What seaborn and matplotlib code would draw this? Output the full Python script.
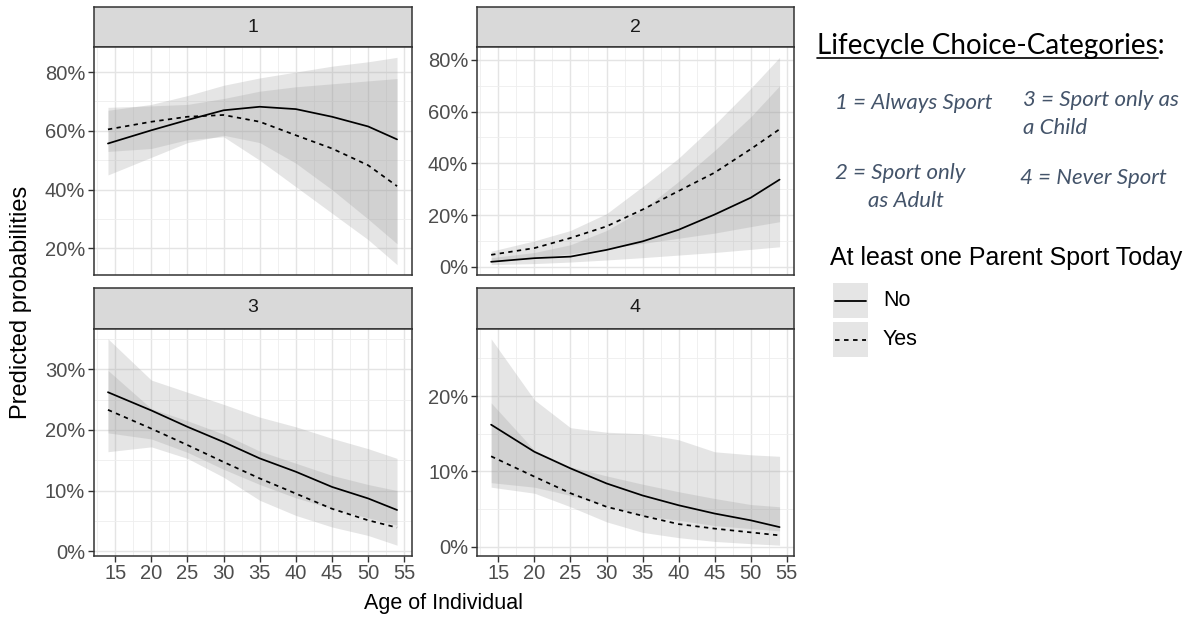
import numpy as np
import pandas as pd
import matplotlib
matplotlib.use("Agg")
import matplotlib.pyplot as plt
from matplotlib.patches import Rectangle
from matplotlib.lines import Line2D
from matplotlib.ticker import FuncFormatter
import seaborn as sns

# ---- data: predicted probabilities (%) by age, for each lifecycle category ----
ages = [14, 20, 25, 30, 35, 40, 45, 50, 54]
parent_levels = ["No", "Yes"]
panels = ["1", "2", "3", "4"]

# category 1 = Always Sport
p1_no = [55.7, 60.2, 63.7, 67.0, 68.2, 67.4, 64.8, 61.5, 57.1]
p1_no_lo = [45.0, 51.0, 56.0, 58.5, 56.0, 49.0, 40.0, 30.0, 21.6]
p1_no_hi = [67.0, 69.0, 72.0, 75.5, 78.0, 80.0, 82.0, 83.5, 85.0]
p1_yes = [60.5, 63.1, 64.8, 65.4, 63.1, 58.5, 54.0, 48.3, 41.2]
p1_yes_lo = [53.0, 54.0, 57.0, 58.0, 50.0, 41.0, 32.0, 23.0, 14.5]
p1_yes_hi = [68.0, 68.5, 69.0, 71.0, 73.5, 75.0, 76.0, 77.0, 77.8]

# category 2 = Sport only as Adult
p2_no = [1.9, 3.3, 3.9, 6.5, 9.8, 14.3, 20.2, 26.7, 33.7]
p2_no_lo = [0.8, 1.2, 1.8, 2.6, 3.5, 4.5, 5.5, 6.7, 7.7]
p2_no_hi = [3.5, 5.5, 8.5, 14.0, 22.0, 33.0, 45.0, 58.0, 70.0]
p2_yes = [4.6, 7.2, 11.1, 15.6, 22.1, 29.3, 36.4, 45.5, 53.2]
p2_yes_lo = [2.5, 3.5, 5.0, 7.0, 9.0, 11.0, 13.0, 15.5, 17.4]
p2_yes_hi = [6.0, 10.0, 14.0, 20.5, 31.0, 42.0, 55.0, 69.0, 81.0]

# category 3 = Sport only as a Child
p3_no = [26.2, 23.2, 20.5, 18.0, 15.3, 13.1, 10.6, 8.7, 6.8]
p3_no_lo = [19.5, 18.5, 16.3, 13.5, 11.0, 8.8, 7.0, 5.5, 4.3]
p3_no_hi = [35.0, 28.2, 26.2, 24.2, 22.1, 20.5, 18.6, 16.9, 15.3]
p3_yes = [23.3, 20.2, 17.5, 14.7, 12.0, 9.5, 7.0, 5.1, 3.9]
p3_yes_lo = [16.4, 17.2, 15.3, 12.2, 8.4, 5.9, 4.0, 2.6, 1.0]
p3_yes_hi = [29.8, 23.5, 21.5, 19.3, 16.5, 14.5, 12.5, 11.0, 10.0]

# category 4 = Never Sport
p4_no = [16.2, 12.6, 10.4, 8.4, 6.8, 5.5, 4.4, 3.5, 2.6]
p4_no_lo = [8.5, 7.9, 6.8, 5.5, 4.1, 3.5, 2.8, 2.4, 2.1]
p4_no_hi = [27.6, 19.5, 15.8, 15.2, 15.0, 14.2, 12.6, 12.2, 12.0]
p4_yes = [12.0, 9.3, 7.1, 5.3, 4.1, 3.0, 2.4, 1.9, 1.5]
p4_yes_lo = [7.9, 7.1, 5.3, 3.3, 1.9, 1.2, 0.7, 0.4, 0.2]
p4_yes_hi = [19.1, 12.8, 10.6, 9.4, 8.3, 7.3, 6.4, 5.6, 5.3]

x_ticks = [15, 20, 25, 30, 35, 40, 45, 50, 55]
y_ticks = {"1": [20, 40, 60, 80], "2": [0, 20, 40, 60, 80],
           "3": [0, 10, 20, 30], "4": [0, 10, 20]}

series = {
    "1": {"No": (p1_no, p1_no_lo, p1_no_hi), "Yes": (p1_yes, p1_yes_lo, p1_yes_hi)},
    "2": {"No": (p2_no, p2_no_lo, p2_no_hi), "Yes": (p2_yes, p2_yes_lo, p2_yes_hi)},
    "3": {"No": (p3_no, p3_no_lo, p3_no_hi), "Yes": (p3_yes, p3_yes_lo, p3_yes_hi)},
    "4": {"No": (p4_no, p4_no_lo, p4_no_hi), "Yes": (p4_yes, p4_yes_lo, p4_yes_hi)},
}

rows = []
for pan in panels:
    for lvl in parent_levels:
        mid, lo, hi = series[pan][lvl]
        for a, m, l, h in zip(ages, mid, lo, hi):
            rows.append(dict(panel=pan, parent=lvl, age=a, prob=m, lo=l, hi=h))
df = pd.DataFrame(rows)

# ---- styling ----
sns.set_theme(style="white")
plt.rcParams["font.family"] = ["Liberation Sans", "DejaVu Sans"]

W, H = 1193, 622
fig = plt.figure(figsize=(W / 100, H / 100), dpi=100)
fig.patch.set_facecolor("white")


def fbox(x0, y0, x1, y1):
    """pixel box (top-left origin) -> figure-fraction rect"""
    return [x0 / W, 1 - y1 / H, (x1 - x0) / W, (y1 - y0) / H]


col_x = [(93.5, 411.5), (476.7, 794.0)]
row_y = [((7, 47), (47, 275)), ((287.5, 328.5), (328.5, 555.5))]

ink = "#333333"
ribbon_fill = "#999999"
tick_size = 14.5

for i, pan in enumerate(panels):
    r, c = divmod(i, 2)
    (sx0, sx1) = col_x[c]
    (st, sb), (pt, pb) = row_y[r]

    # strip
    sax = fig.add_axes(fbox(sx0, st, sx1, sb))
    sax.set_facecolor("#d9d9d9")
    sax.set_xticks([]); sax.set_yticks([])
    for sp in sax.spines.values():
        sp.set_color(ink); sp.set_linewidth(1.1); sp.set_visible(True)
    sax.text(0.5, 0.5, pan, ha="center", va="center", fontsize=14, color="#1a1a1a",
             transform=sax.transAxes)

    # panel
    ax = fig.add_axes(fbox(sx0, pt, sx1, pb))
    ax.set_facecolor("white")
    sub = df[df.panel == pan]

    for lvl in parent_levels:
        s = sub[sub.parent == lvl]
        ax.fill_between(s.age, s.lo, s.hi, color=ribbon_fill, alpha=0.25, lw=0, zorder=2)

    sns.lineplot(data=sub, x="age", y="prob", style="parent", style_order=parent_levels,
                 dashes={"No": "", "Yes": (2.5, 2.5)}, color="black", lw=1.25,
                 legend=False, ax=ax, zorder=3)

    lo_all, hi_all = sub.lo.min(), sub.hi.max()
    pad = 0.05 * (hi_all - lo_all)

    ax.set_xticks(x_ticks)
    ax.set_xticks([t - 2.5 for t in x_ticks], minor=True)
    yt = y_ticks[pan]
    ax.set_yticks(yt)
    step = yt[1] - yt[0]
    ax.set_yticks([yt[0] - step / 2] + [t + step / 2 for t in yt], minor=True)
    ax.set_xlim(12, 56)
    ax.set_ylim(lo_all - pad, hi_all + pad)
    ax.yaxis.set_major_formatter(FuncFormatter(lambda v, p: f"{v:.0f}%"))

    ax.grid(which="major", color="#e4e4e4", lw=1.0, zorder=0)
    ax.grid(which="minor", color="#eeeeee", lw=0.6, zorder=0)
    ax.set_axisbelow(True)

    for sp in ax.spines.values():
        sp.set_color(ink); sp.set_linewidth(1.1); sp.set_visible(True)

    ax.tick_params(axis="y", which="major", length=4, width=1, color=ink,
                   labelsize=tick_size, labelcolor="#4d4d4d", pad=2, left=True)
    ax.tick_params(axis="both", which="minor", length=0)
    if r == 1:
        ax.tick_params(axis="x", which="major", length=4, width=1, color=ink,
                       labelsize=tick_size, labelcolor="#4d4d4d", pad=2, bottom=True)
    else:
        ax.tick_params(axis="x", which="major", length=0, labelbottom=False)
    ax.set_xlabel("")
    ax.set_ylabel("")

# axis titles
fig.text(21 / W, 1 - 302 / H, "Predicted probabilities", rotation=90, ha="center",
         va="center", fontsize=17, color="black")
fig.text(443.7 / W, 1 - 603 / H, "Age of Individual", ha="center", va="center",
         fontsize=15.5, color="black")

# category key
cal = ["Lato", "DejaVu Sans"]
head_size = 20
head = fig.text(817 / W, 1 - 46 / H, "Lifecycle Choice-Categories:", ha="left",
                va="center", fontsize=head_size, color="black", family=cal)
slate = "#44546a"
key_txt = [
    (835, 103, "1 = Always Sport"),
    (1023, 100, "3 = Sport only as"),
    (1023, 128, "a Child"),
    (835, 173, "2 = Sport only"),
    (868, 201, "as Adult"),
    (1020, 178, "4 = Never Sport"),
]
for x, y, s in key_txt:
    fig.text(x / W, 1 - y / H, s, ha="left", va="center", fontsize=16,
             style="italic", color=slate, family=cal)

# underline of the heading (without the colon)
fig.canvas.draw()
rend = fig.canvas.get_renderer()
bb = head.get_window_extent(rend)
tmp = fig.text(0, 0, ":", fontsize=head_size, family=cal)
colon_w = tmp.get_window_extent(rend).width
tmp.remove()
uy = bb.y0 + 1
fig.add_artist(Line2D([bb.x0 / W, (bb.x1 - colon_w) / W], [uy / H, uy / H],
                      color="black", lw=1.2, transform=fig.transFigure))

# parent legend
fig.text(830 / W, 1 - 258 / H, "At least one Parent Sport Today", ha="left",
         va="center", fontsize=18, color="black")
for (y0, y1), lvl, ls in [((283, 318), "No", "-"), ((322, 357), "Yes", (0, (2.5, 2.5)))]:
    fig.add_artist(Rectangle((833 / W, 1 - y1 / H), 35 / W, (y1 - y0) / H,
                             transform=fig.transFigure, facecolor=ribbon_fill,
                             alpha=0.25, lw=0))
    yc = 1 - (y0 + y1) / 2 / H
    fig.add_artist(Line2D([835 / W, 866 / W], [yc, yc], color="black", lw=1.3,
                          linestyle=ls, transform=fig.transFigure))
    fig.text(883 / W, yc, lvl, ha="left", va="center", fontsize=15.5, color="black")

fig.savefig("out.png", dpi=100, facecolor="white")
